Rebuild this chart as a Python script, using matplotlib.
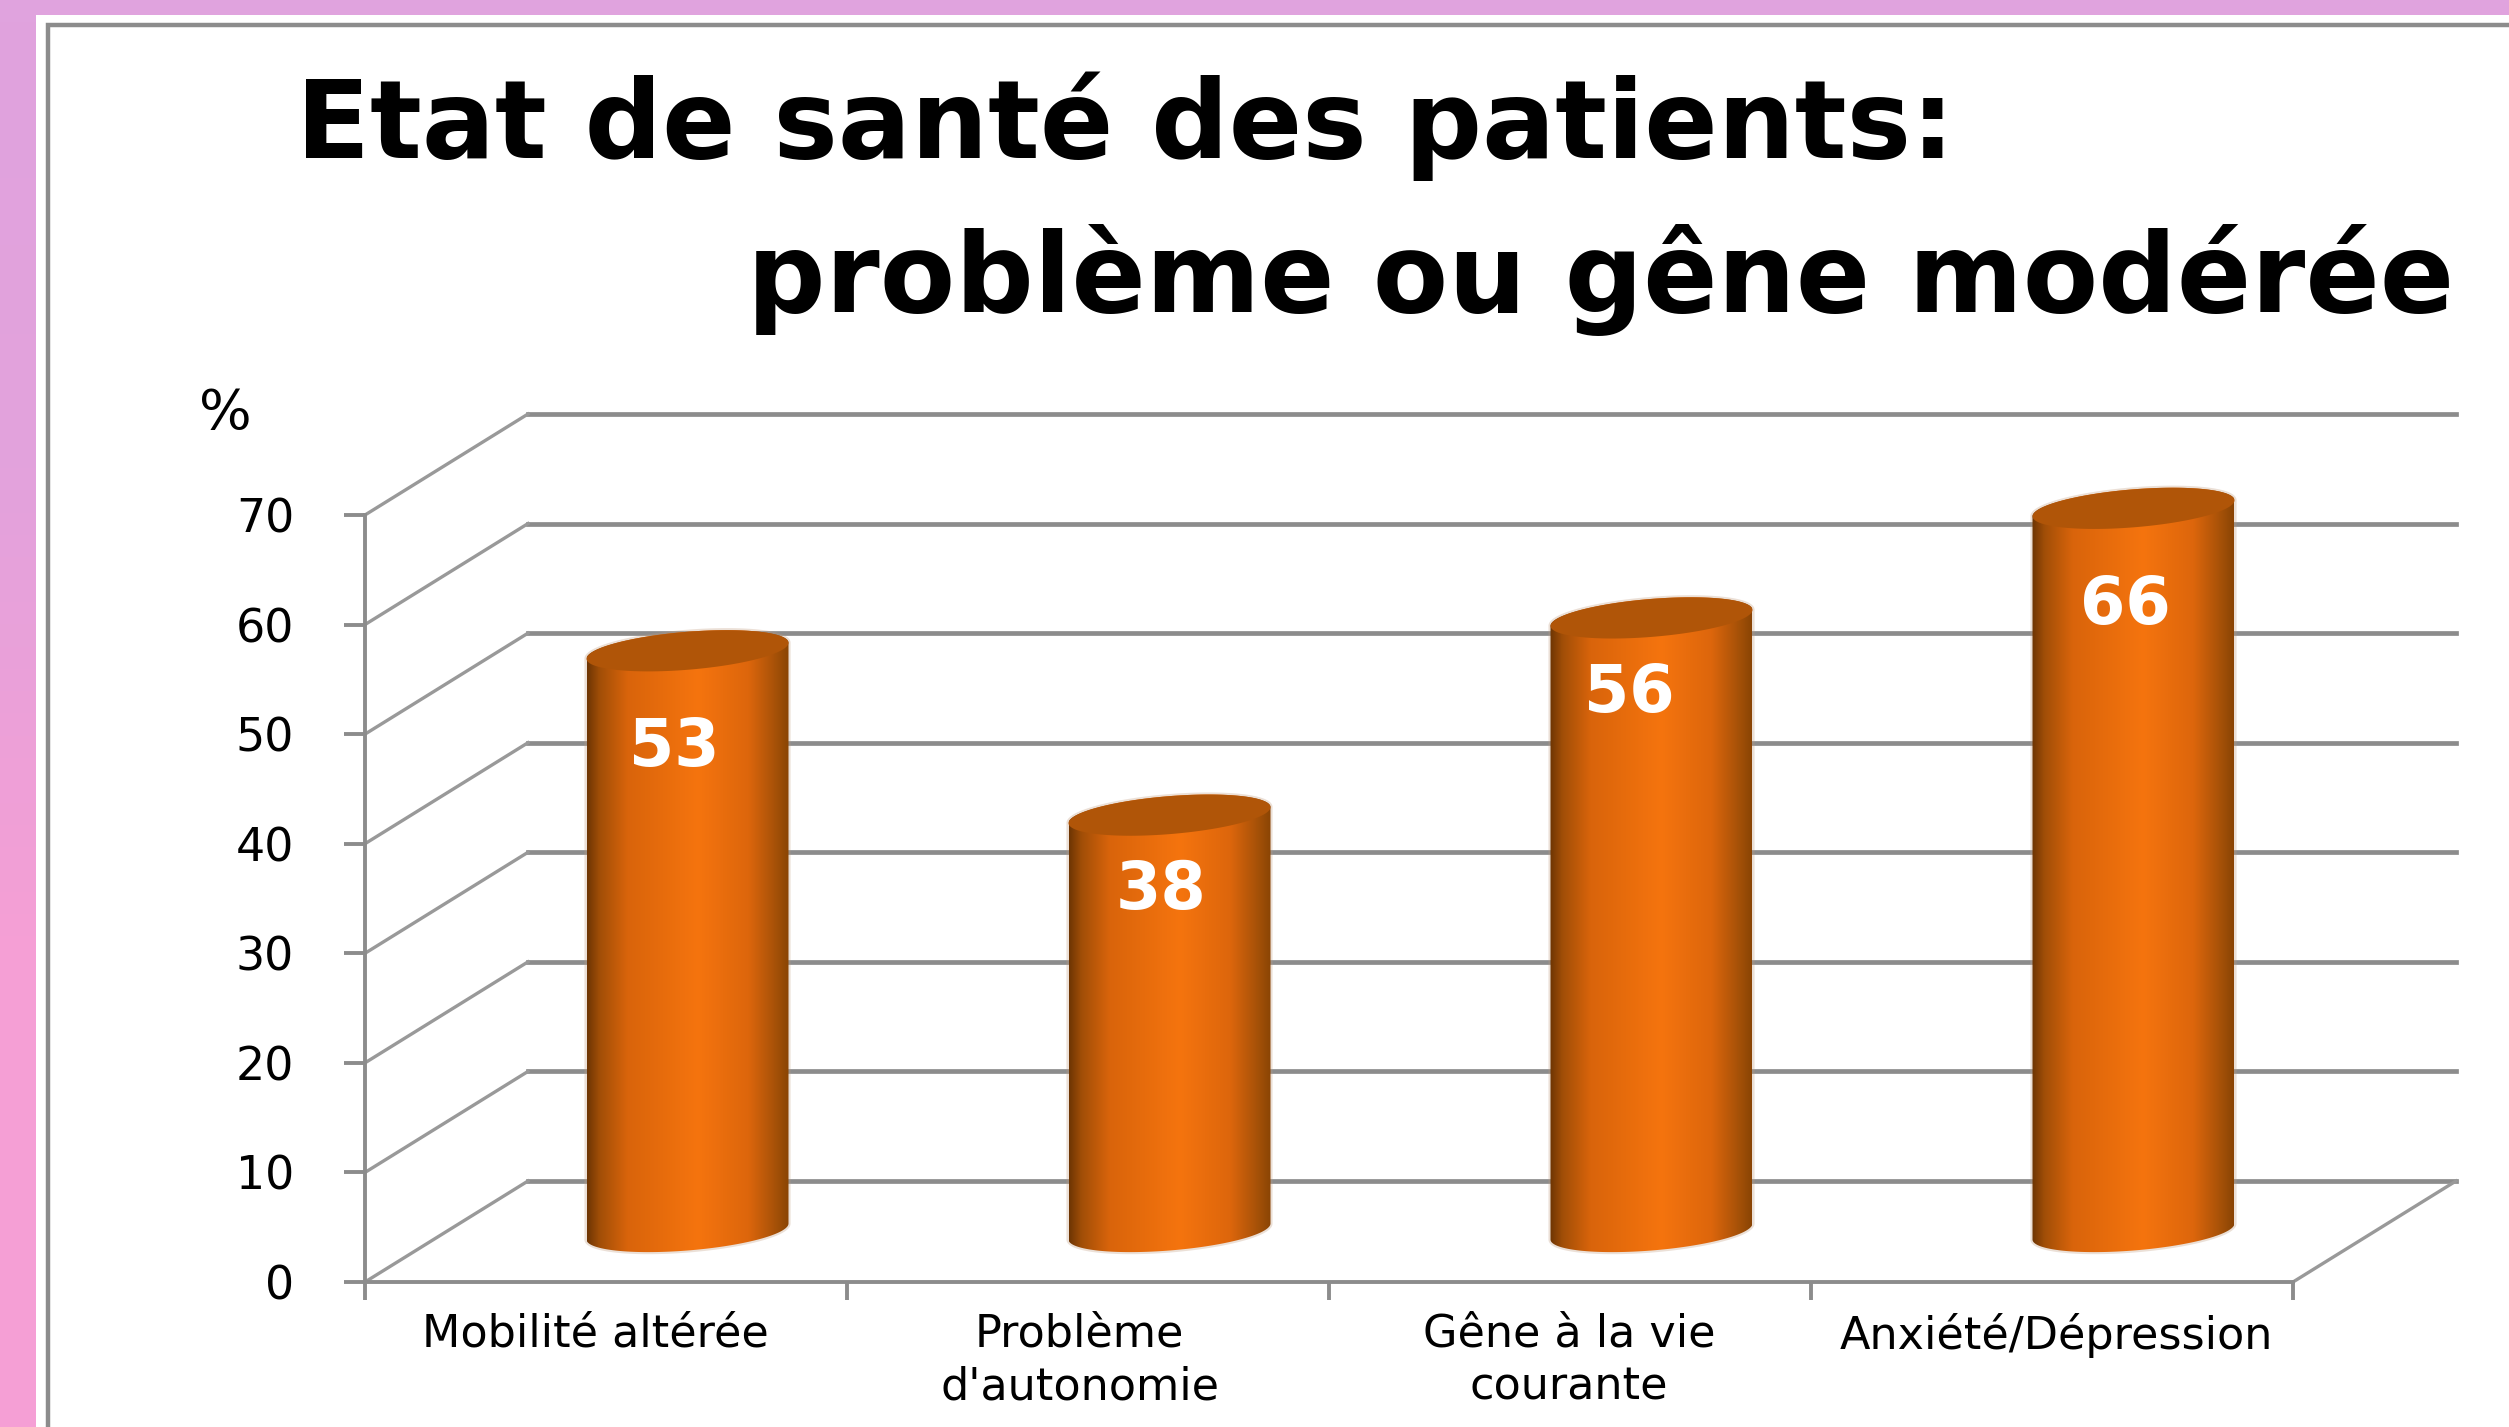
import numpy as np
import matplotlib
matplotlib.use('Agg')
import matplotlib.pyplot as plt
from matplotlib.colors import LinearSegmentedColormap
from matplotlib.patches import Polygon

categories = ['Mobilité altérée', "Problème\nd'autonomie", 'Gêne à la vie\ncourante', 'Anxiété/Dépression']
values = [53, 38, 56, 66]
y_ticks = [0, 10, 20, 30, 40, 50, 60, 70]
title_lines = ['Etat de santé des patients:', 'problème ou gêne modérée']

W, H = 2509, 1427
GREY = '#8c8c8c'

# pixel anchors of the front plane of the 3D box
X0, X4 = 365, 2293
Y0, Y70 = 1282, 515
px_per_cat = (X4 - X0) / 4
px_per_unit = (Y0 - Y70) / 70
depth_x = 163 / px_per_cat   # box depth, in data units
depth_y = 101 / px_per_unit

fig = plt.figure(figsize=(W / 100, H / 100), dpi=100)

# background and frame, in pixels
bg = fig.add_axes([0, 0, 1, 1])
bg.axis('off')
pink = LinearSegmentedColormap.from_list('pink', ['#e0a3de', '#e3a2dc', '#f59fd5', '#f59fd5'])
bg.imshow(np.linspace(0, 1, 64).reshape(-1, 1), cmap=pink, extent=[0, W, H, 0], aspect='auto')
bg.add_patch(plt.Rectangle((36, 15), W, H, color='white', lw=0))
bg.plot([48, 48, W], [H, 25, 25], color=GREY, lw=3.2, solid_joinstyle='miter')
bg.set_xlim(0, W)
bg.set_ylim(H, 0)

bg.text(296, 158, title_lines[0], family='DejaVu Sans', weight='bold', fontsize=78, color='black', va='baseline')
bg.text(2454, 312, title_lines[1], family='DejaVu Sans', weight='bold', fontsize=79, color='black', va='baseline', ha='right')

# chart axes cover the whole figure so data units map straight to pixels
ax = fig.add_axes([0, 0, 1, 1])
ax.patch.set_alpha(0)
xlim = ((0 - X0) / px_per_cat, (W - X0) / px_per_cat)
ylim = ((Y0 - H) / px_per_unit, Y0 / px_per_unit)

# back wall and side wall
for v in y_ticks:
    ax.plot([depth_x, 4 + depth_x], [v + depth_y, v + depth_y], color=GREY, lw=3.4, zorder=1)
    ax.plot([0, depth_x], [v, v + depth_y], color='#999999', lw=2.4, zorder=1)
ax.plot([4, 4 + depth_x], [0, depth_y], color='#999999', lw=2.4, zorder=1)

# cylinders
cyl_cmap = LinearSegmentedColormap.from_list('cyl', [
    (0.0, '#6e3503'), (0.06, '#a04e07'), (0.2, '#d9640b'), (0.55, '#f5740e'),
    (0.8, '#dd660c'), (0.93, '#a85208'), (1.0, '#8a4404')])
half_w = 101 / px_per_cat
ell_b = 19 / px_per_unit
ell_s = 8 / px_per_unit
base = depth_y / 2
label_dx = [-0.027, -0.018, -0.045, -0.017]
label_dy = [-8.9, -6.9, -6.9, -8.9]

for i, val in enumerate(values):
    cx = i + 0.5 + depth_x / 2
    top = base + val
    t = np.linspace(0, 2 * np.pi, 200)
    ex = cx + half_w * np.cos(t)
    lower = ell_b * np.sin(t) + ell_s * np.cos(t)
    low_half = t > np.pi
    body_x = np.r_[ex[low_half], ex[~low_half]]
    body_y = np.r_[base + lower[low_half], top + lower[~low_half]]
    # soft brownish rim left by the upscaled source
    ax.add_patch(Polygon(np.c_[body_x, body_y], closed=True, fc='none', ec='#c09a7c', lw=3, alpha=0.3, zorder=2))
    body = Polygon(np.c_[body_x, body_y], closed=True, transform=ax.transData, fc='none', ec='none')
    ax.add_patch(body)
    im = ax.imshow(np.linspace(0, 1, 256).reshape(1, -1), cmap=cyl_cmap, aspect='auto',
                   extent=[cx - half_w, cx + half_w, base - 5, top + 5], zorder=3)
    im.set_clip_path(body)
    ax.add_patch(Polygon(np.c_[ex, top + lower], closed=True, fc='#b05508', ec='none', zorder=4))
    ax.text(cx + label_dx[i], top + label_dy[i], str(val), color='white', weight='bold',
            family='DejaVu Sans', fontsize=47, ha='center', va='center', zorder=5)

# axes lines, ticks and labels
for side in ('top', 'right'):
    ax.spines[side].set_visible(False)
ax.spines['left'].set_position(('data', 0))
ax.spines['left'].set_bounds(0, 70)
ax.spines['bottom'].set_position(('data', 0))
ax.spines['bottom'].set_bounds(0, 4)
for side in ('left', 'bottom'):
    ax.spines[side].set_color(GREY)
    ax.spines[side].set_linewidth(2.8)
ax.set_yticks(y_ticks)
ax.tick_params(axis='y', length=15, width=2.8, color=GREY, labelsize=33, pad=36)
ax.set_xticks(range(5))
ax.set_xticklabels([])
ax.tick_params(axis='x', which='major', length=13, width=2.8, color=GREY)
ax.set_xticks(np.arange(4) + 0.5 + np.array([-0.023, -0.017, -0.002, 0.01]), minor=True)
ax.set_xticklabels(categories, minor=True, fontsize=32, linespacing=1.3)
ax.tick_params(axis='x', which='minor', length=0, pad=22)
ax.text(-0.29, 70 + depth_y, '%', fontsize=40, ha='center', va='center')
ax.set_xlim(*xlim)
ax.set_ylim(*ylim)

fig.savefig('out.png', dpi=100)
